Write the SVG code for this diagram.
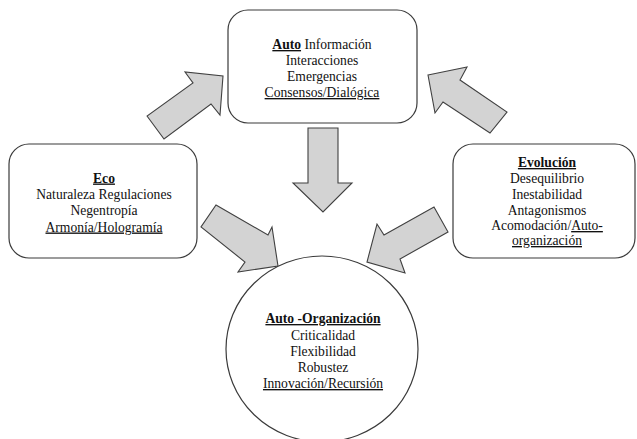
<svg xmlns="http://www.w3.org/2000/svg" width="637" height="439" viewBox="0 0 637 439">
<style>
.box{fill:#fff;stroke:#3a3a3a;stroke-width:1.2}
.arr{fill:#d3d3d3;stroke:#404040;stroke-width:1.1;stroke-linejoin:miter}
.t{font-size:13.6px;fill:#111;text-anchor:middle}
.b{font-weight:bold}
.u{text-decoration:underline}
</style>
<rect width="637" height="439" fill="#fff"/>
<g id="connectors">
<polygon class="arr" points="147,116 164,139 211,104 220,115 223,76 185,72 193,83"/>
<polygon class="arr" points="308,128 338,128 338,183 352,183 323,212 293,183 308,183"/>
<polygon class="arr" points="216,205 268,235 272,227 278,266 238,272 245,262 201,227"/>
<polygon class="arr" points="434,207 448,232 400,259 405,273 367,262 377,224 384,235"/>
<polygon class="arr" points="428,75 467,67 460,80 507,112 490,133 443,102 435,113"/>
</g>
<g font-family="'Liberation Serif', 'Times New Roman', 'DejaVu Serif', serif">
<g id="auto">
<rect class="box" x="228" y="10" width="189" height="113" rx="20"/>
<text class="t" x="322" y="49"><tspan class="b u">Auto</tspan> Información</text>
<text class="t" x="322" y="65">Interacciones</text>
<text class="t" x="322" y="81">Emergencias</text>
<text class="t u" x="322" y="97">Consensos/Dialógica</text>
</g>
<g id="eco">
<rect class="box" x="9" y="144" width="188" height="114" rx="20"/>
<text class="t b u" x="104" y="182.5">Eco</text>
<text class="t" x="104" y="199">Naturaleza Regulaciones</text>
<text class="t" x="104" y="215">Negentropía</text>
<text class="t u" x="104" y="231.5">Armonía/Hologramía</text>
</g>
<g id="evolucion">
<rect class="box" x="453" y="144" width="182" height="114" rx="20"/>
<text class="t b u" x="547" y="167">Evolución</text>
<text class="t" x="547" y="183">Desequilibrio</text>
<text class="t" x="547" y="198.5">Inestabilidad</text>
<text class="t" x="547" y="214.5">Antagonismos</text>
<text class="t" x="547" y="230">Acomodación/<tspan class="u">Auto-</tspan></text>
<text class="t u" x="547" y="245">organización</text>
</g>
<g id="autoorganizacion">
<ellipse class="box" cx="322" cy="349" rx="96" ry="93"/>
<text class="t b u" x="323" y="323">Auto -Organización</text>
<text class="t" x="323" y="339.5">Criticalidad</text>
<text class="t" x="323" y="356">Flexibilidad</text>
<text class="t" x="323" y="372">Robustez</text>
<text class="t u" x="323" y="388">Innovación/Recursión</text>
</g>
</g>
</svg>
